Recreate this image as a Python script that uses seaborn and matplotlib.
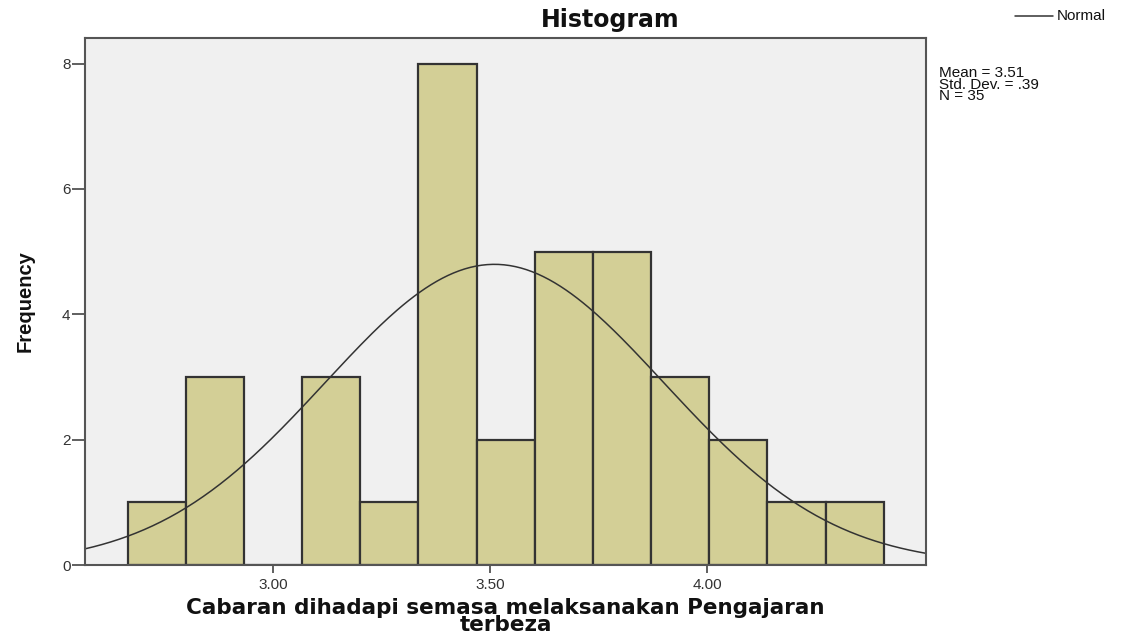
import numpy as np
import pandas as pd
import matplotlib
matplotlib.use("Agg")
import matplotlib.pyplot as plt
import seaborn as sns

# histogram
bin_edges = [2.665, 2.799, 2.933, 3.067, 3.201, 3.335, 3.469, 3.603,
             3.737, 3.871, 4.005, 4.139, 4.273, 4.408]
counts = [1, 3, 0, 3, 1, 8, 2, 5, 5, 3, 2, 1, 1]
x_ticks = [3.00, 3.50, 4.00]
y_ticks = [0, 2, 4, 6, 8]
mean_val = 3.51
std_val = 0.39
n_val = 35

sns.set_style("white")
plt.rcParams['font.family'] = ['Liberation Sans', 'DejaVu Sans']
plt.rcParams['text.color'] = '#111111'
plt.rcParams['axes.labelcolor'] = '#111111'

centers = [(bin_edges[i] + bin_edges[i + 1]) / 2 for i in range(len(counts))]
df = pd.DataFrame({"value": centers, "count": counts})

fig = plt.figure(figsize=(11.31, 6.43), dpi=100)
ax = fig.add_axes([0.0752, 0.1213, 0.7435, 0.8197])
ax.set_facecolor("#f0f0f0")

sns.histplot(data=df, x="value", weights="count", bins=bin_edges,
             color="#d3cf96", alpha=1, edgecolor="#333333", linewidth=1.6, ax=ax)

# normal curve as SPSS draws it
width = bin_edges[1] - bin_edges[0]
xs = np.linspace(2.567, 4.504, 300)
ys = n_val * width * np.exp(-0.5 * ((xs - mean_val) / std_val) ** 2) / (std_val * np.sqrt(2 * np.pi))
sns.lineplot(x=xs, y=ys, color="#333333", linewidth=1.1, ax=ax)

ax.set_xlim(2.567, 4.504)
ax.set_ylim(0, 8.41)
ax.set_xticks(x_ticks)
ax.set_xticklabels([f"{t:.2f}" for t in x_ticks])
ax.set_yticks(y_ticks)
ax.tick_params(axis="both", direction="out", width=1.2, color="#444444",
               labelsize=11, labelcolor="#333333", bottom=True, left=True)
ax.tick_params(axis="x", length=6, pad=3)
ax.tick_params(axis="y", length=9.5, pad=1)
for s in ax.spines.values():
    s.set_color("#555555")
    s.set_linewidth(1.5)

ax.set_xlabel("Cabaran dihadapi semasa melaksanakan Pengajaran\nterbeza",
              fontsize=15.5, fontweight="bold", family="DejaVu Sans", linespacing=0.8, labelpad=5)
ax.set_ylabel("Frequency", fontsize=14.5, fontweight="bold")
ax.yaxis.set_label_coords(-0.0595, 0.5)

# title sits a bit right of the plot centre, as in the SPSS output
fig.text(610 / 1131, 1 - 20 / 643, "Histogram", fontsize=17, fontweight="bold",
         family="DejaVu Sans", ha="center", va="center")

# legend and stats text on the right
fig.add_artist(plt.Line2D([1015 / 1131, 1053 / 1131], [1 - 16 / 643, 1 - 16 / 643],
                          color="#333333", linewidth=1.1))
fig.text(1057 / 1131, 1 - 16 / 643, "Normal", fontsize=11, va="center", ha="left")
fig.text(939 / 1131, 1 - 66 / 643, "Mean = 3.51\nStd. Dev. = .39\nN = 35",
         fontsize=11, va="top", ha="left", linespacing=0.78)

fig.savefig("out.png", dpi=100)
